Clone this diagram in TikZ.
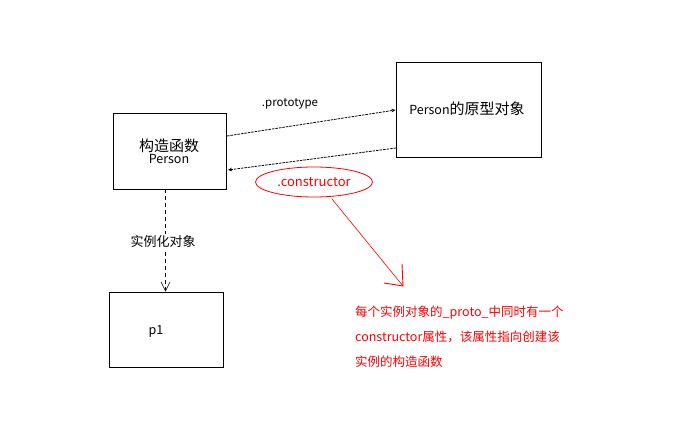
\documentclass[tikz,border=0pt]{standalone}
\usepackage{fontspec}
\setmainfont{Noto Sans CJK SC}
\usetikzlibrary{arrows.meta,shapes.geometric,calc}
\newcommand\cjkbig{\fontsize{15}{17}\selectfont}
\begin{document}
\begin{tikzpicture}[x=1pt,y=-1pt,
  box/.style={draw=black,line width=0.9pt,inner sep=0pt,anchor=north west},
  lbl/.style={font=\fontsize{12.5}{14}\selectfont,inner sep=0pt},
  dlink/.style={draw=black,line width=0.8pt,dash pattern=on 2.5pt off 1pt,-{Stealth[length=4pt,width=3.5pt]}},
  redtxt/.style={text=red,font=\fontsize{12.5}{25}\selectfont,align=left,inner sep=0pt,anchor=north west}]
\useasboundingbox[fill=white] (0,0) rectangle (685,425);
\node[box,minimum width=113pt,minimum height=76pt] (ctor) at (113,113) {};
\node[lbl,align=center] (ctortxt) at (169,151) {{\cjkbig 构造函数}\\[-2pt]Person};
\node[box,minimum width=145pt,minimum height=95pt] (proto) at (396,62) {};
\node[lbl] (prototxt) at (467,109) {Person{\cjkbig 的原型对象}};
\node[box,minimum width=114pt,minimum height=75pt] (p1) at (109,292) {};
\node[lbl] (p1txt) at (156,331) {p1};
% connectors
\coordinate (a1s) at (227,136);
\coordinate (a1e) at (395.5,110);
\draw[dlink] (a1s) -- (a1e);
\node[lbl,font=\fontsize{11.5}{13}\selectfont] (ptlabel) at (290,104) {.prototype};
\coordinate (a2s) at (396,148);
\coordinate (a2e) at (228,170);
\draw[dlink] (a2s) -- (a2e);
% vertical dashed
\coordinate (vs) at (165.5,189);
\coordinate (ve) at (165.5,291);
\draw[black,line width=0.8pt,dash pattern=on 4pt off 3pt] (vs) -- (ve);
\draw[black,line width=0.6pt] ($(ve)+(-4.5,-9)$) -- (ve) -- ($(ve)+(4.5,-9)$);
\node[lbl,fill=white,inner sep=1.5pt,font=\fontsize{13}{15}\selectfont] (inst) at (163,242) {实例化对象};
% ellipse
\node[ellipse,draw=red,line width=0.8pt,minimum width=117pt,minimum height=30pt,inner sep=0pt,text=red,font=\fontsize{13}{15}\selectfont] (cons) at (314,182) {.constructor};
\coordinate (rend) at (403,286);
\draw[red,line width=0.6pt] (332,199) -- (rend);
\draw[red,line width=0.9pt] (402,264) -- (rend) -- (384,283);
\node[redtxt] (note) at (355,306) {每个实例对象的\_proto\_中同时有一个\\constructor属性，该属性指向创建该\\实例的构造函数};
\end{tikzpicture}
\end{document}
